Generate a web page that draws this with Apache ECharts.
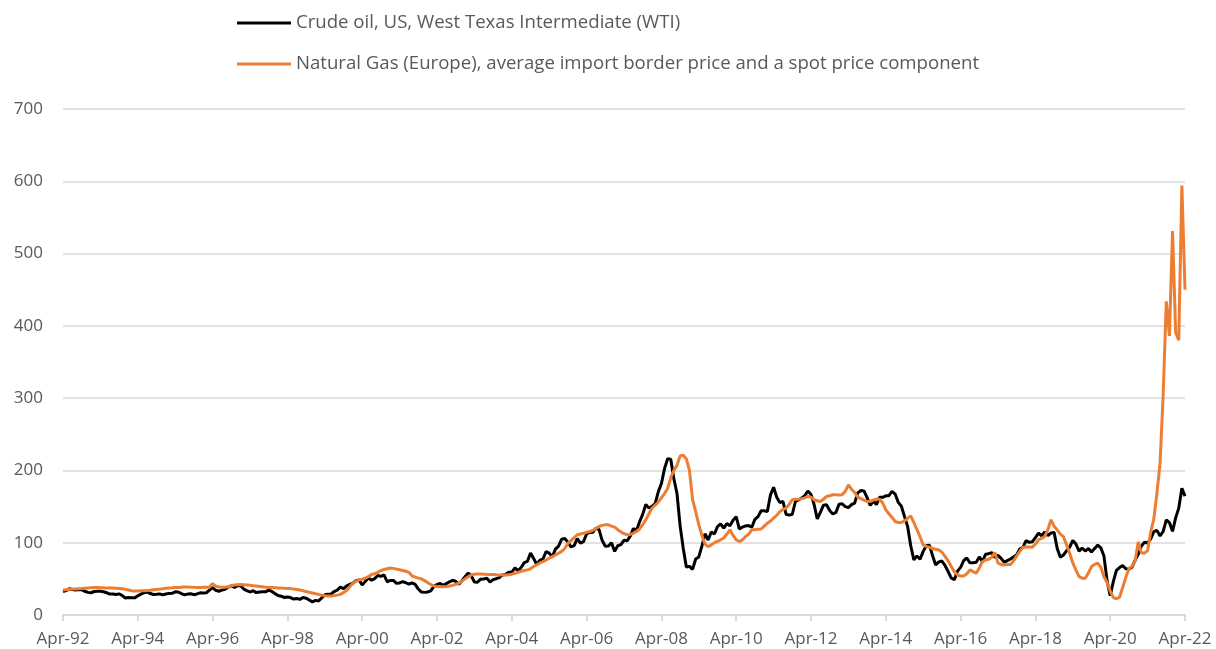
<!DOCTYPE html>
<html>
<head>
<meta charset="utf-8">
<script src="https://cdn.jsdelivr.net/npm/echarts/dist/echarts.min.js"></script>
<style>
html,body{margin:0;padding:0;background:#fff;}
#chart{width:1216px;height:649px;}
</style>
</head>
<body>
<div id="chart"></div>
<script>
// Month labels (Apr-92 ... Apr-22), monthly
const monthNames = ['Jan','Feb','Mar','Apr','May','Jun','Jul','Aug','Sep','Oct','Nov','Dec'];
const startYear = 1992, startMonth = 3, monthCount = 361;
const categories = [];
for (let i = 0; i < monthCount; i++) {
  const mi = (startMonth + i) % 12;
  const yr = startYear + Math.floor((startMonth + i) / 12);
  categories.push(monthNames[mi] + '-' + String(yr % 100).padStart(2, '0'));
}

const yTicks = [0, 100, 200, 300, 400, 500, 600, 700];

const seriesNames = [
  'Crude oil, US, West Texas Intermediate (WTI)',
  'Natural Gas (Europe), average import border price and a spot price component'
];

// Crude oil WTI index
const wti = [
  32.6,33.8,36.2,35.2,34.6,35.4,35.0,32.8,31.3,
  30.8,32.5,32.8,32.8,32.1,30.8,28.9,29.1,28.3,29.2,27.0,23.4,
  24.2,23.9,23.7,26.5,28.9,30.8,31.8,29.7,28.3,28.6,29.2,27.8,
  29.1,29.9,30.0,32.1,31.8,29.7,27.9,28.9,29.4,28.1,29.1,30.7,
  30.5,30.8,34.4,38.0,34.2,32.9,34.4,35.4,38.6,40.2,38.3,40.7,
  40.5,35.9,33.8,31.8,33.6,31.0,31.7,32.1,32.0,34.4,32.6,29.6,
  27.0,26.0,24.2,24.9,24.1,22.1,22.8,21.6,24.2,23.3,20.8,18.2,
  20.2,19.4,23.7,27.9,28.7,28.9,32.5,34.4,38.6,36.5,40.4,42.2,
  43.9,47.5,48.3,41.5,46.5,51.4,48.1,50.4,54.7,53.5,55.6,46.0,
  47.8,47.8,43.9,44.3,46.2,44.6,42.6,44.3,42.3,35.9,31.7,31.3,
  31.8,33.4,39.6,42.3,43.6,41.2,43.4,45.9,48.0,46.7,42.5,47.5,
  53.1,58.0,54.3,45.7,45.4,49.6,49.7,51.0,45.7,48.9,50.2,51.8,
  55.4,56.0,59.3,59.3,65.1,61.4,65.7,72.5,74.1,85.8,78.3,69.9,
  75.6,77.5,87.7,85.6,80.4,91.1,95.3,105.0,105.9,100.8,94.2,95.9,
  105.8,99.5,101.6,112.1,114.3,114.5,120.2,118.1,103.0,95.1,95.4,100.1,
  88.0,95.8,97.5,103.4,102.6,109.0,119.7,116.9,129.0,139.2,152.8,148.1,
  150.2,154.1,170.4,181.8,202.5,216.2,215.4,188.5,168.1,123.7,92.5,66.4,
  67.3,63.1,77.4,80.3,95.3,112.4,103.7,114.8,112.1,122.3,126.0,120.3,
  126.5,123.4,131.1,136.1,119.0,121.6,123.2,123.7,121.4,132.3,136.1,144.1,
  144.1,143.1,166.2,176.8,163.0,155.5,157.1,139.4,138.1,139.4,157.0,159.2,
  162.0,165.1,171.5,166.8,152.9,132.9,142.0,152.0,152.6,144.5,139.7,142.0,
  153.1,153.9,150.0,148.6,152.6,154.7,168.9,172.2,171.7,162.3,151.6,157.6,
  152.8,162.8,162.8,164.9,165.1,170.9,167.3,155.8,150.5,136.3,122.4,95.8,
  76.2,81.7,77.2,88.0,95.8,96.6,82.2,69.3,73.5,74.6,68.5,60.1,
  51.2,48.9,60.7,65.9,75.4,78.8,72.2,72.2,73.0,80.4,73.8,84.0,
  84.8,86.4,79.6,82.5,78.3,73.0,75.3,77.5,80.4,83.3,91.4,93.5,
  102.9,100.5,101.3,107.1,113.1,109.7,114.7,110.0,113.4,114.3,92.1,79.9,
  83.0,88.8,94.0,103.2,98.2,88.3,92.7,88.5,92.1,87.2,92.1,96.7,
  92.9,81.6,47.2,26.8,46.2,61.9,65.7,68.3,64.0,63.6,66.1,75.9,
  84.0,95.3,100.6,99.6,105.3,115.3,117.1,109.3,115.6,131.6,127.9,115.8,
  134.4,147.9,175.2,164.4
];

// Natural gas Europe index
const gas = [
  34.5,35.0,35.5,35.8,36.0,36.3,36.6,37.0,37.4,
  37.8,38.0,38.0,37.8,37.6,37.5,37.3,37.2,37.0,36.8,36.3,35.5,
  34.5,33.5,33.2,33.2,33.4,33.6,33.8,34.2,34.8,35.3,35.8,36.3,
  37.0,37.3,37.6,38.0,38.2,38.4,38.6,38.6,38.5,38.3,38.2,38.2,
  38.3,38.4,38.5,43.5,40.0,38.8,38.5,38.4,39.0,40.5,41.5,42.0,
  42.3,42.0,41.5,41.0,40.5,40.0,39.5,39.0,38.5,38.2,38.0,37.8,
  37.5,37.2,37.0,36.8,36.5,36.0,35.3,34.5,33.5,32.5,31.5,30.5,
  29.5,28.5,27.5,26.8,26.3,26.3,26.8,27.5,28.5,31.0,34.0,39.0,
  44.0,46.5,48.5,49.5,51.0,53.0,56.0,57.0,59.0,61.5,63.0,64.0,
  65.0,64.5,63.5,62.5,61.5,60.5,59.0,54.0,52.5,51.0,50.0,47.5,
  45.0,42.0,40.2,39.5,39.2,39.2,39.3,40.0,41.0,42.5,44.0,47.0,
  50.0,53.0,55.4,56.5,56.8,56.8,56.5,56.2,56.0,55.9,55.6,55.4,
  55.3,55.4,55.8,56.5,57.8,59.0,60.5,61.5,62.4,64.0,67.0,69.5,
  72.0,73.9,76.0,78.5,80.8,83.0,85.5,88.0,92.0,99.0,103.0,107.0,
  111.0,112.0,113.0,114.5,115.5,117.0,119.5,122.4,124.0,125.0,124.8,123.0,
  121.5,118.0,115.0,112.5,111.0,111.5,113.0,115.5,119.0,125.0,131.7,140.0,
  148.0,152.0,156.0,162.0,168.0,175.0,190.0,200.0,207.0,220.0,221.0,216.0,
  200.0,160.0,143.0,125.0,110.0,98.0,94.5,97.0,100.0,102.0,104.0,106.5,
  112.0,117.8,110.0,104.0,101.6,104.0,108.5,112.0,117.8,118.0,118.5,119.0,
  123.0,127.0,130.0,134.0,138.0,143.0,146.0,148.0,153.0,159.4,160.0,160.0,
  161.0,162.0,164.0,163.0,159.4,158.0,157.0,160.0,164.0,165.0,166.3,166.3,
  166.0,166.5,171.0,180.0,174.0,169.5,163.0,161.0,159.0,157.0,157.0,159.0,
  160.4,160.0,155.0,145.5,140.0,135.0,129.4,128.0,128.0,130.0,134.0,137.0,
  128.0,118.0,108.0,97.0,95.0,93.8,92.0,91.0,90.0,87.0,81.0,75.0,
  67.0,60.0,55.4,54.0,54.0,57.0,62.4,60.0,57.8,65.0,73.9,76.0,
  77.2,80.0,86.4,71.7,70.0,69.3,70.0,70.0,75.0,81.8,88.0,93.8,
  94.0,94.0,93.8,98.0,104.0,106.0,108.5,118.0,131.7,123.0,117.8,112.0,
  108.5,97.0,85.5,72.0,62.0,53.0,51.0,50.8,58.0,67.0,70.0,71.7,
  66.0,53.0,45.0,33.0,24.0,22.5,24.5,38.0,52.0,64.0,67.5,75.0,
  101.0,86.0,85.5,89.0,115.0,133.0,169.0,210.0,305.0,434.0,386.0,531.0,
  391.0,380.0,594.0,450.0
];

const chart = echarts.init(document.getElementById('chart'), null, {renderer: 'canvas'});
const font = '"Open Sans", "Noto Sans", sans-serif';
chart.setOption({
  animation: false,
  backgroundColor: '#ffffff',
  textStyle: {fontFamily: font},
  legend: {
    orient: 'vertical',
    left: 237,
    top: 12,
    padding: 0,
    itemGap: 19,
    itemWidth: 54,
    itemHeight: 3,
    icon: 'rect',
    textStyle: {fontFamily: font, fontSize: 18.6, color: '#595959', lineHeight: 22},
    data: seriesNames
  },
  grid: {left: 63, right: 31, top: 109, bottom: 34, containLabel: false},
  xAxis: {
    type: 'category',
    data: categories,
    boundaryGap: false,
    axisLine: {lineStyle: {color: '#d9d9d9', width: 2}},
    axisTick: {show: true, interval: 23, length: 6, lineStyle: {color: '#d9d9d9', width: 2}},
    axisLabel: {interval: 23, fontFamily: font, fontSize: 17, color: '#595959', margin: 16},
    splitLine: {show: false}
  },
  yAxis: {
    type: 'value',
    min: yTicks[0],
    max: yTicks[yTicks.length - 1],
    interval: 100,
    axisLine: {show: false},
    axisTick: {show: false},
    axisLabel: {fontFamily: font, fontSize: 17, color: '#595959', margin: 20},
    splitLine: {lineStyle: {color: '#d9d9d9', width: 1.5}}
  },
  series: [
    {
      name: seriesNames[0],
      type: 'line',
      data: wti,
      symbol: 'none',
      color: '#000000',
      lineStyle: {color: '#000000', width: 3}
    },
    {
      name: seriesNames[1],
      type: 'line',
      data: gas,
      symbol: 'none',
      color: '#ED7D31',
      lineStyle: {color: '#ED7D31', width: 3}
    }
  ]
});
</script>
</body>
</html>
